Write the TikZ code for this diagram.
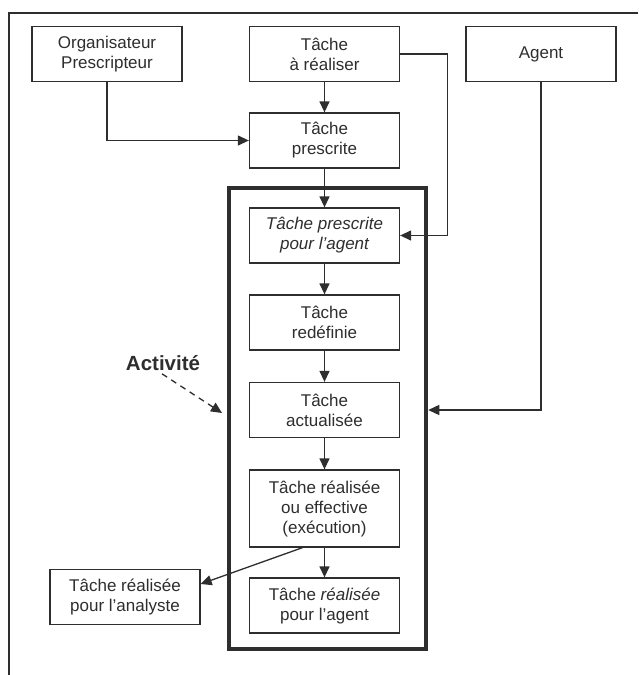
\documentclass[tikz,border=0pt]{standalone}
\usepackage{fontspec}
\setmainfont{Liberation Sans}
\usetikzlibrary{arrows.meta}
\definecolor{ink}{gray}{0.18}
\begin{document}
\begin{tikzpicture}[x=1pt,y=-1pt,
  box/.style={draw=ink,text=ink,line width=1.3pt,minimum width=150pt,minimum height=55pt,
    inner sep=0pt,align=center,font=\fontsize{17}{20}\selectfont},
  arr/.style={draw=ink,line width=1.3pt,-{Triangle[length=11pt,width=10pt]}},
  actframe/.style={draw=ink,line width=4.5pt,minimum width=197pt,minimum height=461pt,inner sep=0pt},
  lbl/.style={text=ink,inner sep=0pt,font=\fontsize{20.5}{24}\selectfont\bfseries}]
\useasboundingbox (0,0) rectangle (638,675);
\fill[white] (0,0) rectangle (638,675);
% outer frame (cropped)
\draw[ink,line width=1.3pt] (638,13) -- (9,13) -- (9,675);
% activity frame
\node[actframe] (act) at (327.5,418.5) {};
% boxes
\node[box] (org) at (107,54) {Organisateur\\Prescripteur};
\node[box] (tar) at (324.5,54) {Tâche\\à réaliser};
\node[box] (agent) at (541,54) {Agent};
\node[box] (tp) at (324.5,140.5) {Tâche\\prescrite};
\node[box] (tpa) at (324.5,235.5) {\itshape Tâche prescrite\\\itshape pour l'agent};
\node[box] (tred) at (324.5,322.5) {Tâche\\redéfinie};
\node[box] (tact) at (324.5,410) {Tâche\\actualisée};
\node[box,minimum height=77pt] (treal) at (324.5,508.5) {Tâche réalisée\\ou effective\\(exécution)};
\node[box] (tragent) at (324.5,605.5) {Tâche \textit{réalisée}\\pour l'agent};
\node[box] (tana) at (125,597) {Tâche réalisée\\pour l'analyste};
\node[lbl] (actlbl) at (163,363) {Activité};
\coordinate (acttip) at (222,413);
% connectors
\draw[arr] (org.south) |- (tp.west);
\draw[arr] (tar.south) -- (tp.north);
\draw[arr] (tar.east) -- ++(47,0) |- (tpa.east);
\draw[arr] (tp.south) -- (tpa.north);
\draw[arr] (tpa.south) -- (tred.north);
\draw[arr] (tred.south) -- (tact.north);
\draw[arr] (tact.south) -- (treal.north);
\draw[arr] (treal.south) -- (tragent.north);
\draw[arr] (agent.south) |- (act.east |- tact.center);
\draw[arr] ([xshift=-22pt]treal.south) -- ([yshift=13pt]tana.east);
\draw[arr,dash pattern=on 6pt off 5pt] ([xshift=-1pt,yshift=-3pt]actlbl.south) -- (acttip);
\end{tikzpicture}
\end{document}
